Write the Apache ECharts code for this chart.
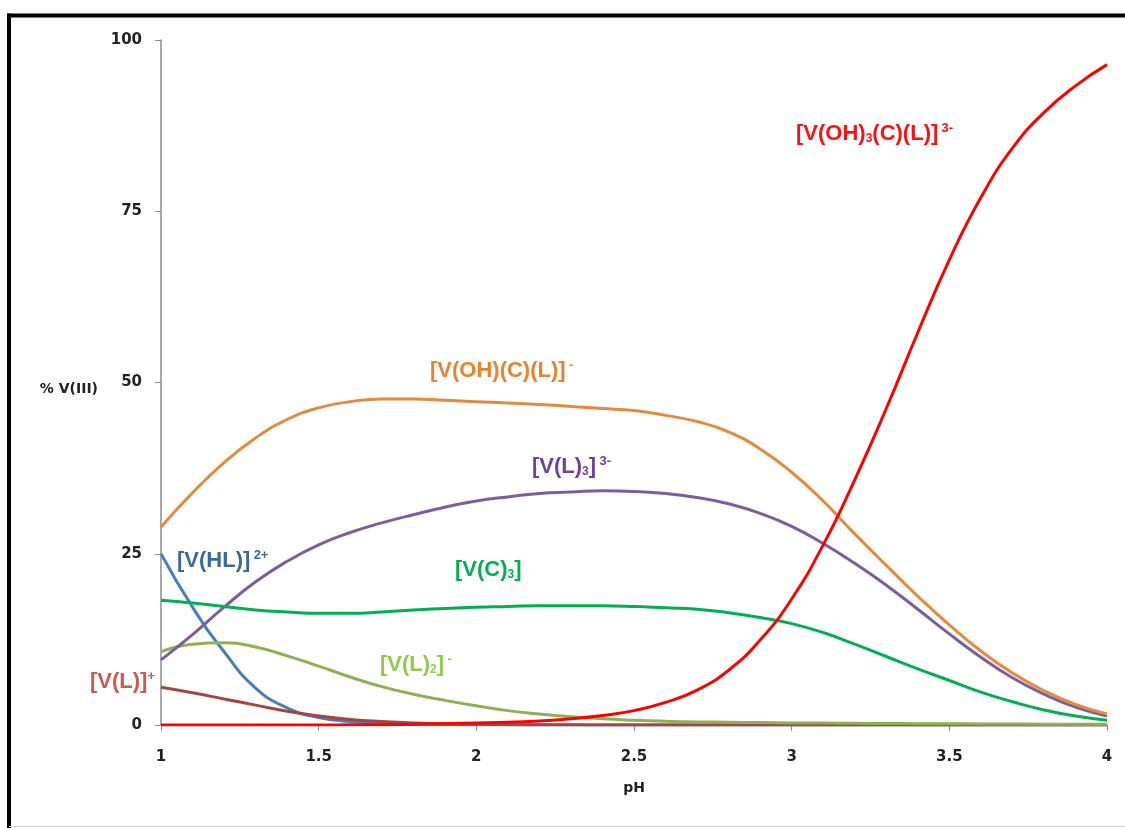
<!DOCTYPE html>
<html>
<head>
<meta charset="utf-8">
<script src="https://cdn.jsdelivr.net/npm/echarts@6/dist/echarts.min.js"></script>
<style>
  html, body { margin: 0; padding: 0; background: #ffffff; }
  #chart { width: 1125px; height: 828px; }
</style>
</head>
<body>
<div id="chart"></div>
<script>
// pH grid (step 0.1)
const pH = [1.0,1.1,1.2,1.3,1.4,1.5,1.6,1.7,1.8,1.9,2.0,2.1,2.2,2.3,2.4,2.5,2.6,2.7,2.8,2.9,3.0,3.1,3.2,3.3,3.4,3.5,3.6,3.7,3.8,3.9,4.0];

// species distribution, % V(III)
const vHL    = [25.0,17.2,10.7,5.4,2.5,1.1,0.5,0.25,0.12,0.06,0.03,0.02,0.01,0,0,0,0,0,0,0,0,0,0,0,0,0,0,0,0,0,0];
const vL     = [5.5,4.7,3.8,2.9,2.0,1.3,0.8,0.5,0.3,0.2,0.1,0.05,0.03,0.02,0.01,0,0,0,0,0,0,0,0,0,0,0,0,0,0,0,0];
const vL2    = [10.7,11.8,12.0,11.4,10.1,8.6,7.0,5.6,4.5,3.6,2.8,2.1,1.6,1.2,0.9,0.7,0.55,0.45,0.4,0.35,0.3,0.28,0.25,0.22,0.2,0.18,0.16,0.14,0.12,0.1,0.1];
const vL3    = [9.5,13.2,17.2,20.9,23.9,26.3,28.1,29.5,30.7,31.8,32.7,33.3,33.8,34.0,34.2,34.1,33.8,33.2,32.3,30.9,29.0,26.5,23.6,20.4,16.9,13.3,9.9,6.9,4.5,2.6,1.3];
const vC3    = [18.2,17.8,17.3,16.8,16.5,16.3,16.3,16.5,16.8,17.0,17.2,17.3,17.4,17.4,17.4,17.3,17.1,16.9,16.4,15.7,14.8,13.5,11.8,10.0,8.2,6.5,4.8,3.4,2.2,1.3,0.7];
const vOHCL  = [28.9,33.9,38.3,41.9,44.6,46.3,47.2,47.6,47.6,47.4,47.2,47.0,46.8,46.5,46.2,45.9,45.2,44.3,42.8,40.3,36.9,32.7,27.9,23.3,18.8,14.6,10.8,7.6,5.0,3.0,1.6];
const vOH3CL = [0,0,0,0,0,0,0.02,0.05,0.1,0.2,0.3,0.4,0.6,0.9,1.4,2.1,3.3,5.1,8.0,12.4,18.4,26.3,35.8,46.2,57.3,67.9,77.0,84.2,89.4,93.3,96.4];

// y-axis ticks
const yTicks = [0, 25, 50, 75, 100];

const pairs = arr => pH.map((x, i) => [x, arr[i]]);

const seriesDefs = [
  { name: '[V(HL)]2+',        data: vHL,    color: '#4A7EBB' },
  { name: '[V(L)]+',          data: vL,     color: '#A34541' },
  { name: '[V(L)2]-',         data: vL2,    color: '#8FB052' },
  { name: '[V(L)3]3-',        data: vL3,    color: '#7B5EA0' },
  { name: '[V(C)3]',          data: vC3,    color: '#00B050' },
  { name: '[V(OH)(C)(L)]-',   data: vOHCL,  color: '#E48A3C' },
  { name: '[V(OH)3(C)(L)]3-', data: vOH3CL, color: '#FF0000' }
];

const labelFont = '"Liberation Sans Narrow", "Liberation Sans", Arial, sans-serif';
function speciesLabel(x, y, color, text) {
  return {
    type: 'text', left: x, top: y, z: 100,
    style: {
      text: text,
      fill: color,
      rich: {
        a: { fontFamily: labelFont, fontWeight: 'bold', fontSize: 22, fill: color, verticalAlign: 'bottom', lineHeight: 28 },
        s: { fontFamily: labelFont, fontWeight: 'bold', fontSize: 12, fill: color, verticalAlign: 'bottom', lineHeight: 22 },
        p: { fontFamily: labelFont, fontWeight: 'bold', fontSize: 13, fill: color, verticalAlign: 'top', lineHeight: 28, padding: [5, 0, 0, 0] }
      }
    }
  };
}

const chart = echarts.init(document.getElementById('chart'), null, { renderer: 'canvas' });

chart.setOption({
  backgroundColor: '#ffffff',
  animation: false,
  grid: { left: 161, top: 40, right: 18, bottom: 103 },
  xAxis: {
    type: 'value', min: 1, max: 4, interval: 0.5,
    name: 'pH', nameLocation: 'middle', nameGap: 56,
    nameTextStyle: { fontFamily: 'DejaVu Sans', fontWeight: 'bold', fontSize: 14, color: '#222' },
    axisLine: { show: true, lineStyle: { color: '#8c8c8c', width: 1.5 } },
    axisTick: { show: true, length: 6, lineStyle: { color: '#8c8c8c' } },
    axisLabel: { margin: 25, fontFamily: 'DejaVu Sans', fontWeight: 'bold', fontSize: 15, color: '#222' },
    splitLine: { show: false }
  },
  yAxis: {
    type: 'value', min: yTicks[0], max: yTicks[yTicks.length - 1], interval: 25,
    name: '% V(III)', nameLocation: 'middle', nameGap: 63, nameRotate: 0,
    nameTextStyle: { fontFamily: 'DejaVu Sans', fontWeight: 'bold', fontSize: 14, color: '#222', verticalAlign: 'top' },
    axisLine: { show: true, lineStyle: { color: '#8c8c8c', width: 1.5 } },
    axisTick: { show: true, length: 6, lineStyle: { color: '#8c8c8c' } },
    axisLabel: { margin: 19, fontFamily: 'DejaVu Sans', fontWeight: 'bold', fontSize: 15, color: '#222' },
    splitLine: { show: false }
  },
  series: seriesDefs.map(s => ({
    type: 'line', name: s.name, data: pairs(s.data),
    smooth: 0.5, showSymbol: false, symbol: 'none',
    lineStyle: { color: s.color, width: 3 },
    itemStyle: { color: s.color }
  })),
  graphic: [
    // outer frame
    { type: 'line', shape: { x1: 7, y1: 15.5, x2: 1125, y2: 15.5 }, style: { stroke: '#000', lineWidth: 4 }, z: 100 },
    { type: 'line', shape: { x1: 9, y1: 13.5, x2: 9, y2: 828 }, style: { stroke: '#000', lineWidth: 4 }, z: 100 },
    { type: 'line', shape: { x1: 9, y1: 826.5, x2: 1125, y2: 826.5 }, style: { stroke: '#d4d4d4', lineWidth: 1 }, z: 100 },
    // species labels
    speciesLabel(796, 117, '#FF1010', '{a|[V(OH)}{s|3}{a|(C)(L)]} {p|3-}'),
    speciesLabel(430, 354, '#E8822E', '{a|[V(OH)(C)(L)]} {p|-}'),
    speciesLabel(532, 450, '#7040A0', '{a|[V(L)}{s|3}{a|]} {p|3-}'),
    speciesLabel(455, 559, '#00B050', '{a|[V(C)}{s|3}{a|]}'),
    speciesLabel(177, 544, '#3C68A0', '{a|[V(HL)]} {p|2+}'),
    speciesLabel(90, 665, '#C85A50', '{a|[V(L)]}{p|+}'),
    speciesLabel(380, 648, '#8FCC4A', '{a|[V(L)}{s|2}{a|]} {p|-}')
  ]
});
</script>
</body>
</html>
